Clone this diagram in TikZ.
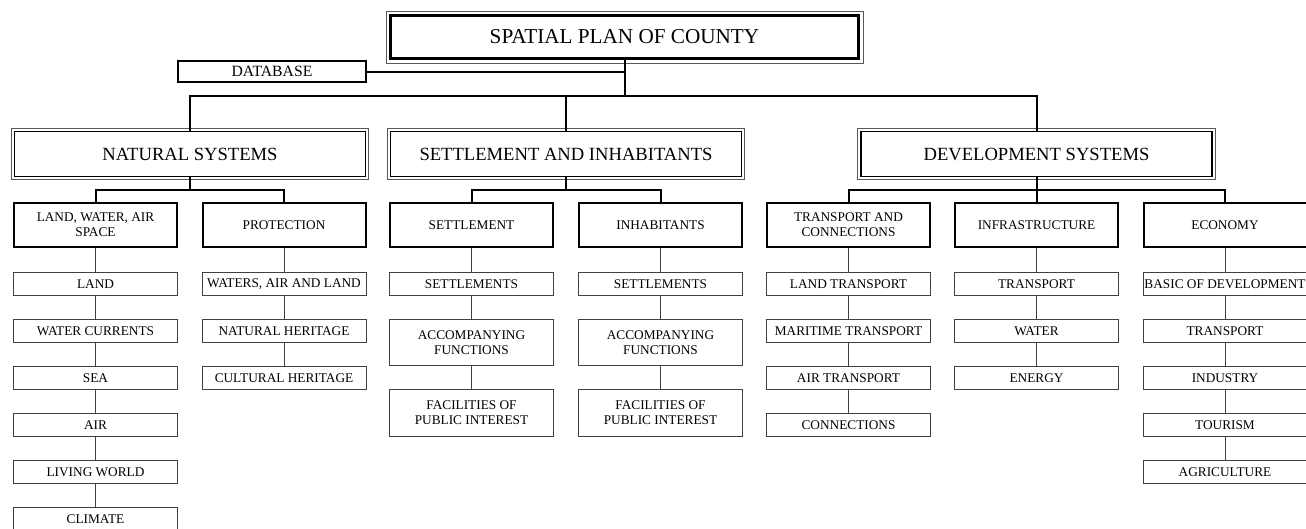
\documentclass[tikz,border=0pt]{standalone}
\usepackage{fontspec}
\setmainfont{Liberation Serif}
\begin{document}
\begin{tikzpicture}[x=1pt,y=-1pt,
  ttl/.style={draw, line width=3pt, minimum width=468pt, minimum height=43pt, inner sep=0pt, font=\fontsize{21.2}{24}\selectfont},
  dbs/.style={draw, line width=1.8pt, minimum width=188pt, minimum height=21pt, inner sep=0pt, font=\fontsize{15.7}{18}\selectfont},
  lvlone/.style={draw, line width=1.5pt, minimum width=351pt, minimum height=45pt, inner sep=0pt, font=\fontsize{18.6}{21}\selectfont},
  lvltwo/.style={draw, line width=2pt, minimum width=163pt, minimum height=44pt, inner sep=0pt, align=center, font=\fontsize{13.3}{15.3}\selectfont},
  lvlthree/.style={draw=black!75, line width=1pt, minimum width=164pt, minimum height=23pt, inner sep=0pt, align=center, font=\fontsize{13.3}{15.3}\selectfont},
  outerline/.style={draw=black!65, line width=1pt},
  thickconn/.style={draw, line width=2pt},
  thinconn/.style={draw=black!75, line width=1pt},
]
\useasboundingbox (0,0) rectangle (1306,528);

% top
\node[ttl] (title) at (624.5,37) {SPATIAL PLAN OF COUNTY};
\draw[outerline] ([xshift=-3pt,yshift=-3pt]title.south west) rectangle ([xshift=3pt,yshift=3pt]title.north east);
\node[dbs] (db) at (272,71.5) {DATABASE};

% level 1
\node[lvlone] (nat) at (190,154) {NATURAL SYSTEMS};
\node[lvlone] (si) at (566,154) {SETTLEMENT AND INHABITANTS};
\node[lvlone] (dev) at (1036.5,154) {DEVELOPMENT SYSTEMS};
\foreach \n in {nat,si,dev}{
  \draw[outerline] ([xshift=-2.5pt,yshift=-2.5pt]\n.south west) rectangle ([xshift=2.5pt,yshift=2.5pt]\n.north east);
}

\coordinate (hub) at (624.5,96);
\draw[thickconn] (title.south) -- (hub);
\draw[thickconn] (db.east) -- (db.east -| hub);
\draw[thickconn] (nat.north) |- (hub);
\draw[thickconn] (hub) -| (dev.north);
\draw[thickconn] (si.north) -- (si.north |- hub);

% level 2
\node[lvltwo] (lwa) at (95.5,225) {LAND, WATER, AIR\\SPACE};
\node[lvltwo] (prot) at (284,225) {PROTECTION};
\node[lvltwo] (sett) at (471.5,225) {SETTLEMENT};
\node[lvltwo] (inh) at (660.5,225) {INHABITANTS};
\node[lvltwo] (tc) at (848.5,225) {TRANSPORT AND\\CONNECTIONS};
\node[lvltwo] (infra) at (1036.5,225) {INFRASTRUCTURE};
\node[lvltwo] (econ) at (1225,225) {ECONOMY};

\coordinate (bnat) at (190,190);
\coordinate (bsi) at (566,190);
\coordinate (bdev) at (1036.5,190);
\draw[thickconn] (nat.south) -- (bnat);
\draw[thickconn] (lwa.north) |- (bnat) -| (prot.north);
\draw[thickconn] (si.south) -- (bsi);
\draw[thickconn] (sett.north) |- (bsi) -| (inh.north);
\draw[thickconn] (dev.south) -- (infra.north);
\draw[thickconn] (tc.north) |- (bdev) -| (econ.north);

% level 3 - natural
\node[lvlthree] (land) at (95.5,284) {LAND};
\node[lvlthree] (wcur) at (95.5,331) {WATER CURRENTS};
\node[lvlthree] (sea) at (95.5,378) {SEA};
\node[lvlthree] (air) at (95.5,425) {AIR};
\node[lvlthree] (liv) at (95.5,472) {LIVING WORLD};
\node[lvlthree] (clim) at (95.5,519) {CLIMATE};
\draw[thinconn] (lwa) -- (land);
\draw[thinconn] (land) -- (wcur);
\draw[thinconn] (wcur) -- (sea);
\draw[thinconn] (sea) -- (air);
\draw[thinconn] (air) -- (liv);
\draw[thinconn] (liv) -- (clim);

\node[lvlthree] (wal) at (284,284) {WATERS, AIR AND LAND};
\node[lvlthree] (nher) at (284,331) {NATURAL HERITAGE};
\node[lvlthree] (cher) at (284,378) {CULTURAL HERITAGE};
\draw[thinconn] (prot) -- (wal);
\draw[thinconn] (wal) -- (nher);
\draw[thinconn] (nher) -- (cher);

% settlement
\node[lvlthree] (sets) at (471.5,284) {SETTLEMENTS};
\node[lvlthree, minimum height=46pt] (sacc) at (471.5,342.5) {ACCOMPANYING\\FUNCTIONS};
\node[lvlthree, minimum height=47pt] (sfac) at (471.5,413) {FACILITIES OF\\PUBLIC INTEREST};
\draw[thinconn] (sett) -- (sets);
\draw[thinconn] (sets) -- (sacc);
\draw[thinconn] (sacc) -- (sfac);

\node[lvlthree] (isets) at (660.5,284) {SETTLEMENTS};
\node[lvlthree, minimum height=46pt] (iacc) at (660.5,342.5) {ACCOMPANYING\\FUNCTIONS};
\node[lvlthree, minimum height=47pt] (ifac) at (660.5,413) {FACILITIES OF\\PUBLIC INTEREST};
\draw[thinconn] (inh) -- (isets);
\draw[thinconn] (isets) -- (iacc);
\draw[thinconn] (iacc) -- (ifac);

% transport and connections
\node[lvlthree] (ltr) at (848.5,284) {LAND TRANSPORT};
\node[lvlthree] (mtr) at (848.5,331) {MARITIME TRANSPORT};
\node[lvlthree] (atr) at (848.5,378) {AIR TRANSPORT};
\node[lvlthree] (conn) at (848.5,425) {CONNECTIONS};
\draw[thinconn] (tc) -- (ltr);
\draw[thinconn] (ltr) -- (mtr);
\draw[thinconn] (mtr) -- (atr);
\draw[thinconn] (atr) -- (conn);

% infrastructure
\node[lvlthree] (itr) at (1036.5,284) {TRANSPORT};
\node[lvlthree] (iwat) at (1036.5,331) {WATER};
\node[lvlthree] (ien) at (1036.5,378) {ENERGY};
\draw[thinconn] (infra) -- (itr);
\draw[thinconn] (itr) -- (iwat);
\draw[thinconn] (iwat) -- (ien);

% economy
\node[lvlthree] (ebas) at (1225,284) {BASIC OF DEVELOPMENT};
\node[lvlthree] (etr) at (1225,331) {TRANSPORT};
\node[lvlthree] (eind) at (1225,378) {INDUSTRY};
\node[lvlthree] (etou) at (1225,425) {TOURISM};
\node[lvlthree] (eagr) at (1225,472) {AGRICULTURE};
\draw[thinconn] (econ) -- (ebas);
\draw[thinconn] (ebas) -- (etr);
\draw[thinconn] (etr) -- (eind);
\draw[thinconn] (eind) -- (etou);
\draw[thinconn] (etou) -- (eagr);
\end{tikzpicture}
\end{document}
